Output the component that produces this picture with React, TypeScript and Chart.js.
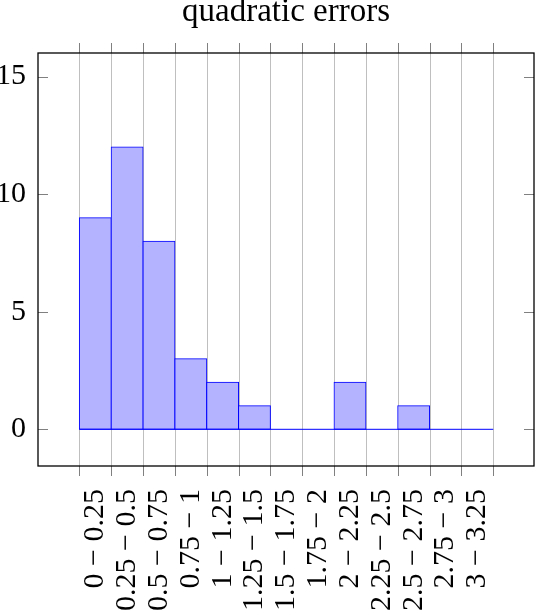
import { useEffect, useRef } from 'react';
import { Chart, registerables, Plugin } from 'chart.js';

Chart.register(...registerables);

// histogram bins of the quadratic errors
const binLabels = [
  '0 − 0.25', '0.25 − 0.5', '0.5 − 0.75', '0.75 − 1', '1 − 1.25', '1.25 − 1.5', '1.5 − 1.75',
  '1.75 − 2', '2 − 2.25', '2.25 − 2.5', '2.5 − 2.75', '2.75 − 3', '3 − 3.25',
];
const binCounts = [9, 12, 8, 3, 2, 1, 0, 0, 2, 0, 1, 0, 0];
const yTicks = [0, 5, 10, 15];

// bin i spans [i, i + 1] on the x axis, labels sit in the middle
const binEdges = binLabels.map((_, i) => i).concat(binLabels.length);
const binCenters = binLabels.map((_, i) => i + 0.5);

const FONT = "'Liberation Serif', serif";

const gridAndFrame: Plugin = {
  id: 'gridAndFrame',
  beforeDatasetsDraw(chart) {
    const { ctx, chartArea: a, scales } = chart;
    ctx.save();
    ctx.strokeStyle = '#bfbfbf';
    ctx.lineWidth = 1;
    ctx.beginPath();
    for (const v of binEdges) {
      const px = Math.round(scales.x.getPixelForValue(v)) + 0.5;
      ctx.moveTo(px, a.top);
      ctx.lineTo(px, a.bottom);
    }
    ctx.stroke();
    ctx.restore();
  },
  afterDraw(chart) {
    const { ctx, chartArea: a, scales } = chart;
    ctx.save();
    ctx.strokeStyle = '#808080';
    ctx.lineWidth = 1;
    ctx.beginPath();
    // x ticks outside, top and bottom
    for (const v of binEdges) {
      const px = Math.round(scales.x.getPixelForValue(v)) + 0.5;
      ctx.moveTo(px, a.top - 10);
      ctx.lineTo(px, a.top);
      ctx.moveTo(px, a.bottom);
      ctx.lineTo(px, a.bottom + 10);
    }
    // y ticks inside, left and right
    for (const v of yTicks) {
      const py = Math.round(scales.y.getPixelForValue(v)) + 0.5;
      ctx.moveTo(a.left, py);
      ctx.lineTo(a.left + 10, py);
      ctx.moveTo(a.right - 10, py);
      ctx.lineTo(a.right, py);
    }
    ctx.stroke();
    ctx.strokeStyle = '#000';
    ctx.lineWidth = 1.3;
    ctx.strokeRect(a.left, a.top, a.right - a.left, a.bottom - a.top);
    ctx.restore();
  },
};

export default function App() {
  const canvasRef = useRef<HTMLCanvasElement>(null);

  useEffect(() => {
    document.body.style.margin = '0';
    if (!canvasRef.current) return;

    const chart = new Chart(canvasRef.current, {
      type: 'bar',
      data: {
        datasets: [
          {
            type: 'bar',
            data: binCounts.map((c, i) => ({ x: binCenters[i], y: c })),
            backgroundColor: '#b3b3ff',
            borderColor: '#0000ff',
            borderWidth: 1,
            borderSkipped: false,
            inflateAmount: 0.5,
            barPercentage: 1,
            categoryPercentage: 1,
            order: 1,
          } as any,
          {
            type: 'line',
            data: [
              { x: binEdges[0], y: 0 },
              { x: binEdges[binEdges.length - 1], y: 0 },
            ],
            borderColor: '#0000ff',
            borderWidth: 1,
            pointRadius: 0,
            order: 0,
          } as any,
        ],
      },
      options: {
        responsive: false,
        animation: false,
        layout: { padding: { right: 1 } },
        plugins: {
          legend: { display: false },
          tooltip: { enabled: false },
          title: {
            display: true,
            text: 'quadratic errors',
            color: '#000',
            fullSize: false,
            font: { family: FONT, size: 33, weight: 'normal', lineHeight: 0.6 },
            padding: { top: 2.2, bottom: 31 },
          },
        },
        scales: {
          x: {
            type: 'linear',
            min: -1.3,
            max: 14.28,
            offset: false,
            afterBuildTicks: (s: any) => {
              s.ticks = binCenters.map((v) => ({ value: v }));
            },
            afterFit: (s: any) => {
              s.height = 146;
              s.paddingLeft = 0;
              s.paddingRight = 0;
            },
            grid: { display: false, drawTicks: false },
            border: { display: false },
            ticks: {
              autoSkip: false,
              minRotation: 90,
              maxRotation: 90,
              padding: 23,
              color: '#000',
              font: { family: FONT, size: 30 },
              callback: (v: any) => binLabels[binCenters.indexOf(Number(v))] ?? '',
            },
          },
          y: {
            type: 'linear',
            min: -1.56,
            max: 16,
            afterBuildTicks: (s: any) => {
              s.ticks = yTicks.map((v) => ({ value: v }));
            },
            afterFit: (s: any) => {
              s.width = 38;
              s.paddingTop = 0;
              s.paddingBottom = 0;
            },
            grid: { display: false, drawTicks: false },
            border: { display: false },
            ticks: {
              padding: 12,
              color: '#000',
              font: { family: FONT, size: 30 },
            },
          },
        },
      },
      plugins: [gridAndFrame],
    });

    return () => {
      chart.destroy();
    };
  }, []);

  return (
    <div style={{ width: 535, height: 612, background: '#fff' }}>
      <canvas ref={canvasRef} width={535} height={612} style={{ display: 'block' }} />
    </div>
  );
}
